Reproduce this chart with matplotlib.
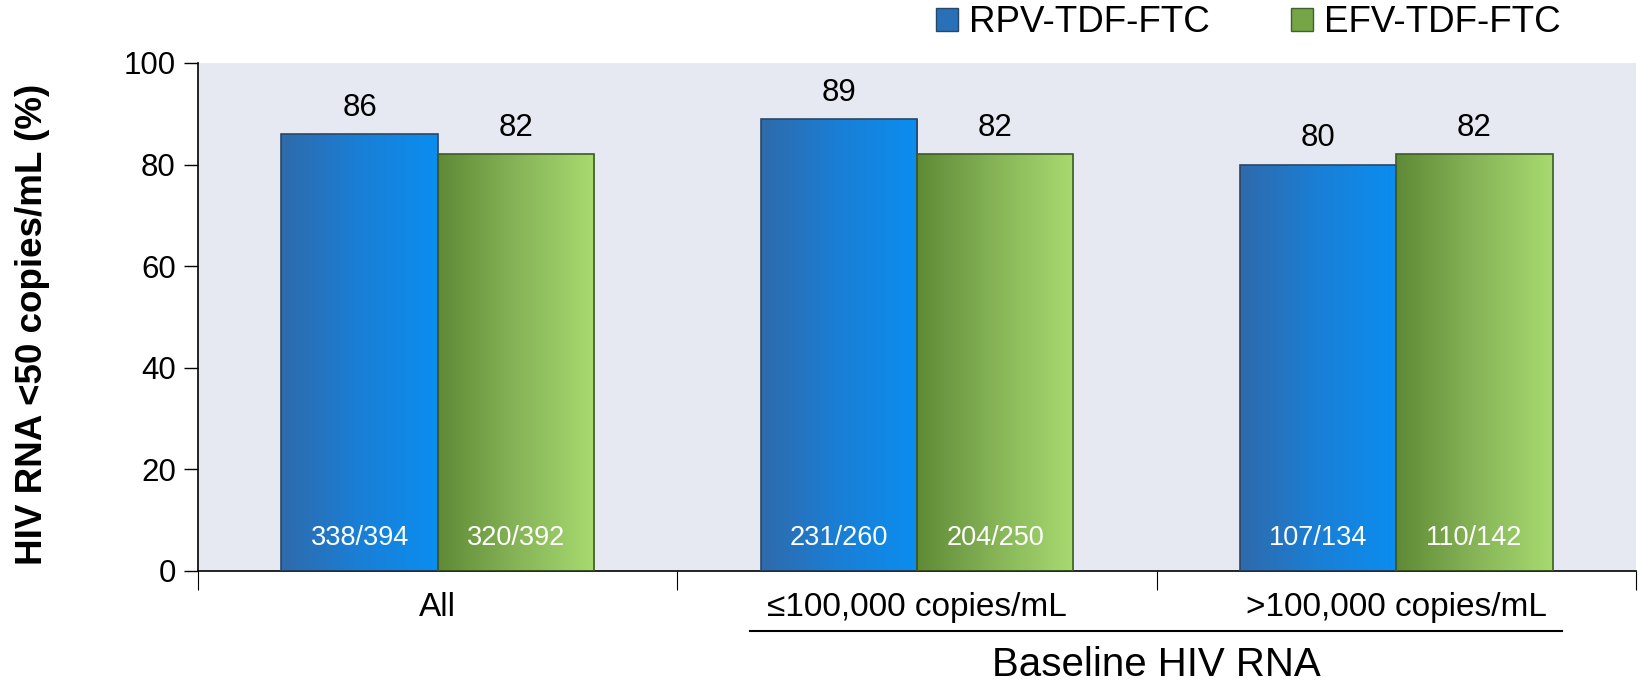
"""HIV RNA <50 copies/mL by baseline viral load, RPV vs EFV."""

import numpy as np
import matplotlib
matplotlib.use('Agg')
from matplotlib import pyplot as plt
from matplotlib.colors import LinearSegmentedColormap
from matplotlib.patches import Patch

plt.rcParams['font.family'] = ['Liberation Sans', 'DejaVu Sans']

# Data
categories = ['All', '\u2264100,000 copies/mL', '>100,000 copies/mL']
series_names = ['RPV-TDF-FTC', 'EFV-TDF-FTC']
rpv_pct = [86, 89, 80]
efv_pct = [82, 82, 82]
rpv_counts = ['338/394', '231/260', '107/134']
efv_counts = ['320/392', '204/250', '110/142']
yticks = [0, 20, 40, 60, 80, 100]

blue_cmap = LinearSegmentedColormap.from_list('blue', ['#2f6aab', '#1a7fd6', '#0a8ef0'])
green_cmap = LinearSegmentedColormap.from_list('green', ['#5f8a36', '#86b457', '#a8da70'])

fig = plt.figure(figsize=(16.4, 6.82), dpi=100)
ax = fig.add_axes([198/1640, 1 - 571/682, (1636 - 198)/1640, (571 - 63)/682])
ax.set_facecolor('#e6e9f1')

x = np.arange(len(categories))
w = 0.326

# bars are outlines only; the gradient is drawn underneath and clipped to them
bars_rpv = ax.bar(x - w/2, rpv_pct, w, facecolor='none', edgecolor='#2a4766', linewidth=1.2, zorder=3)
bars_efv = ax.bar(x + w/2, efv_pct, w, facecolor='none', edgecolor='#3f5a26', linewidth=1.2, zorder=3)

grad = np.linspace(0, 1, 256).reshape(1, -1)
for bars, cmap in [(bars_rpv, blue_cmap), (bars_efv, green_cmap)]:
    for b in bars:
        x0, y0 = b.get_x(), b.get_y()
        im = ax.imshow(grad, cmap=cmap, aspect='auto', zorder=2.5,
                       extent=[x0, x0 + b.get_width(), y0, y0 + b.get_height()])
        im.set_clip_path(b)

# value labels on top and n/N inside
for xs, vals, cnts in [(x - w/2, rpv_pct, rpv_counts), (x + w/2, efv_pct, efv_counts)]:
    for xi, v, c in zip(xs, vals, cnts):
        ax.text(xi, v + 2.2, str(v), ha='center', va='bottom', fontsize=22.5, zorder=4)
        ax.text(xi, 6.5, c, ha='center', va='center', fontsize=19.5, color='white', zorder=4)

ax.set_xlim(-0.5, 2.5)
ax.set_ylim(0, 100)
ax.set_yticks(yticks)
ax.tick_params(axis='y', labelsize=22.5, length=10, width=1, pad=6)
ax.set_xticks(x)
ax.set_xticklabels(categories)
ax.tick_params(axis='x', which='major', labelsize=24, length=0, pad=15)
ax.set_xticks([-0.5, 0.5, 1.5, 2.5], minor=True)
ax.tick_params(axis='x', which='minor', length=14, width=0.8)

for side in ['top', 'right']:
    ax.spines[side].set_visible(False)
ax.spines['left'].set_linewidth(1.2)
ax.spines['bottom'].set_linewidth(1.2)

ax.set_ylabel('HIV RNA <50 copies/mL (%)', fontsize=26.5, fontweight='bold')
ax.yaxis.set_label_coords(-0.103, 0.485)

# underline grouping the two baseline categories
ax.plot([0.652, 2.345], [-0.118, -0.118], transform=ax.get_xaxis_transform(),
        color='black', linewidth=1.5, clip_on=False)
ax.text(1.5, -0.185, 'Baseline HIV RNA', transform=ax.get_xaxis_transform(),
        ha='center', va='center', fontsize=29)

handles = [Patch(facecolor='#2a70b8', edgecolor='#24476c'),
           Patch(facecolor='#76a548', edgecolor='#44602a')]
fig.legend(handles, series_names, loc='center left', ncol=2, frameon=False,
           bbox_to_anchor=(936/1640, 1 - 23/682), fontsize=26.5,
           handlelength=0.6, handleheight=0.6, handletextpad=0.3,
           columnspacing=2.2, borderpad=0, borderaxespad=0)

fig.savefig('out.png', dpi=100)
